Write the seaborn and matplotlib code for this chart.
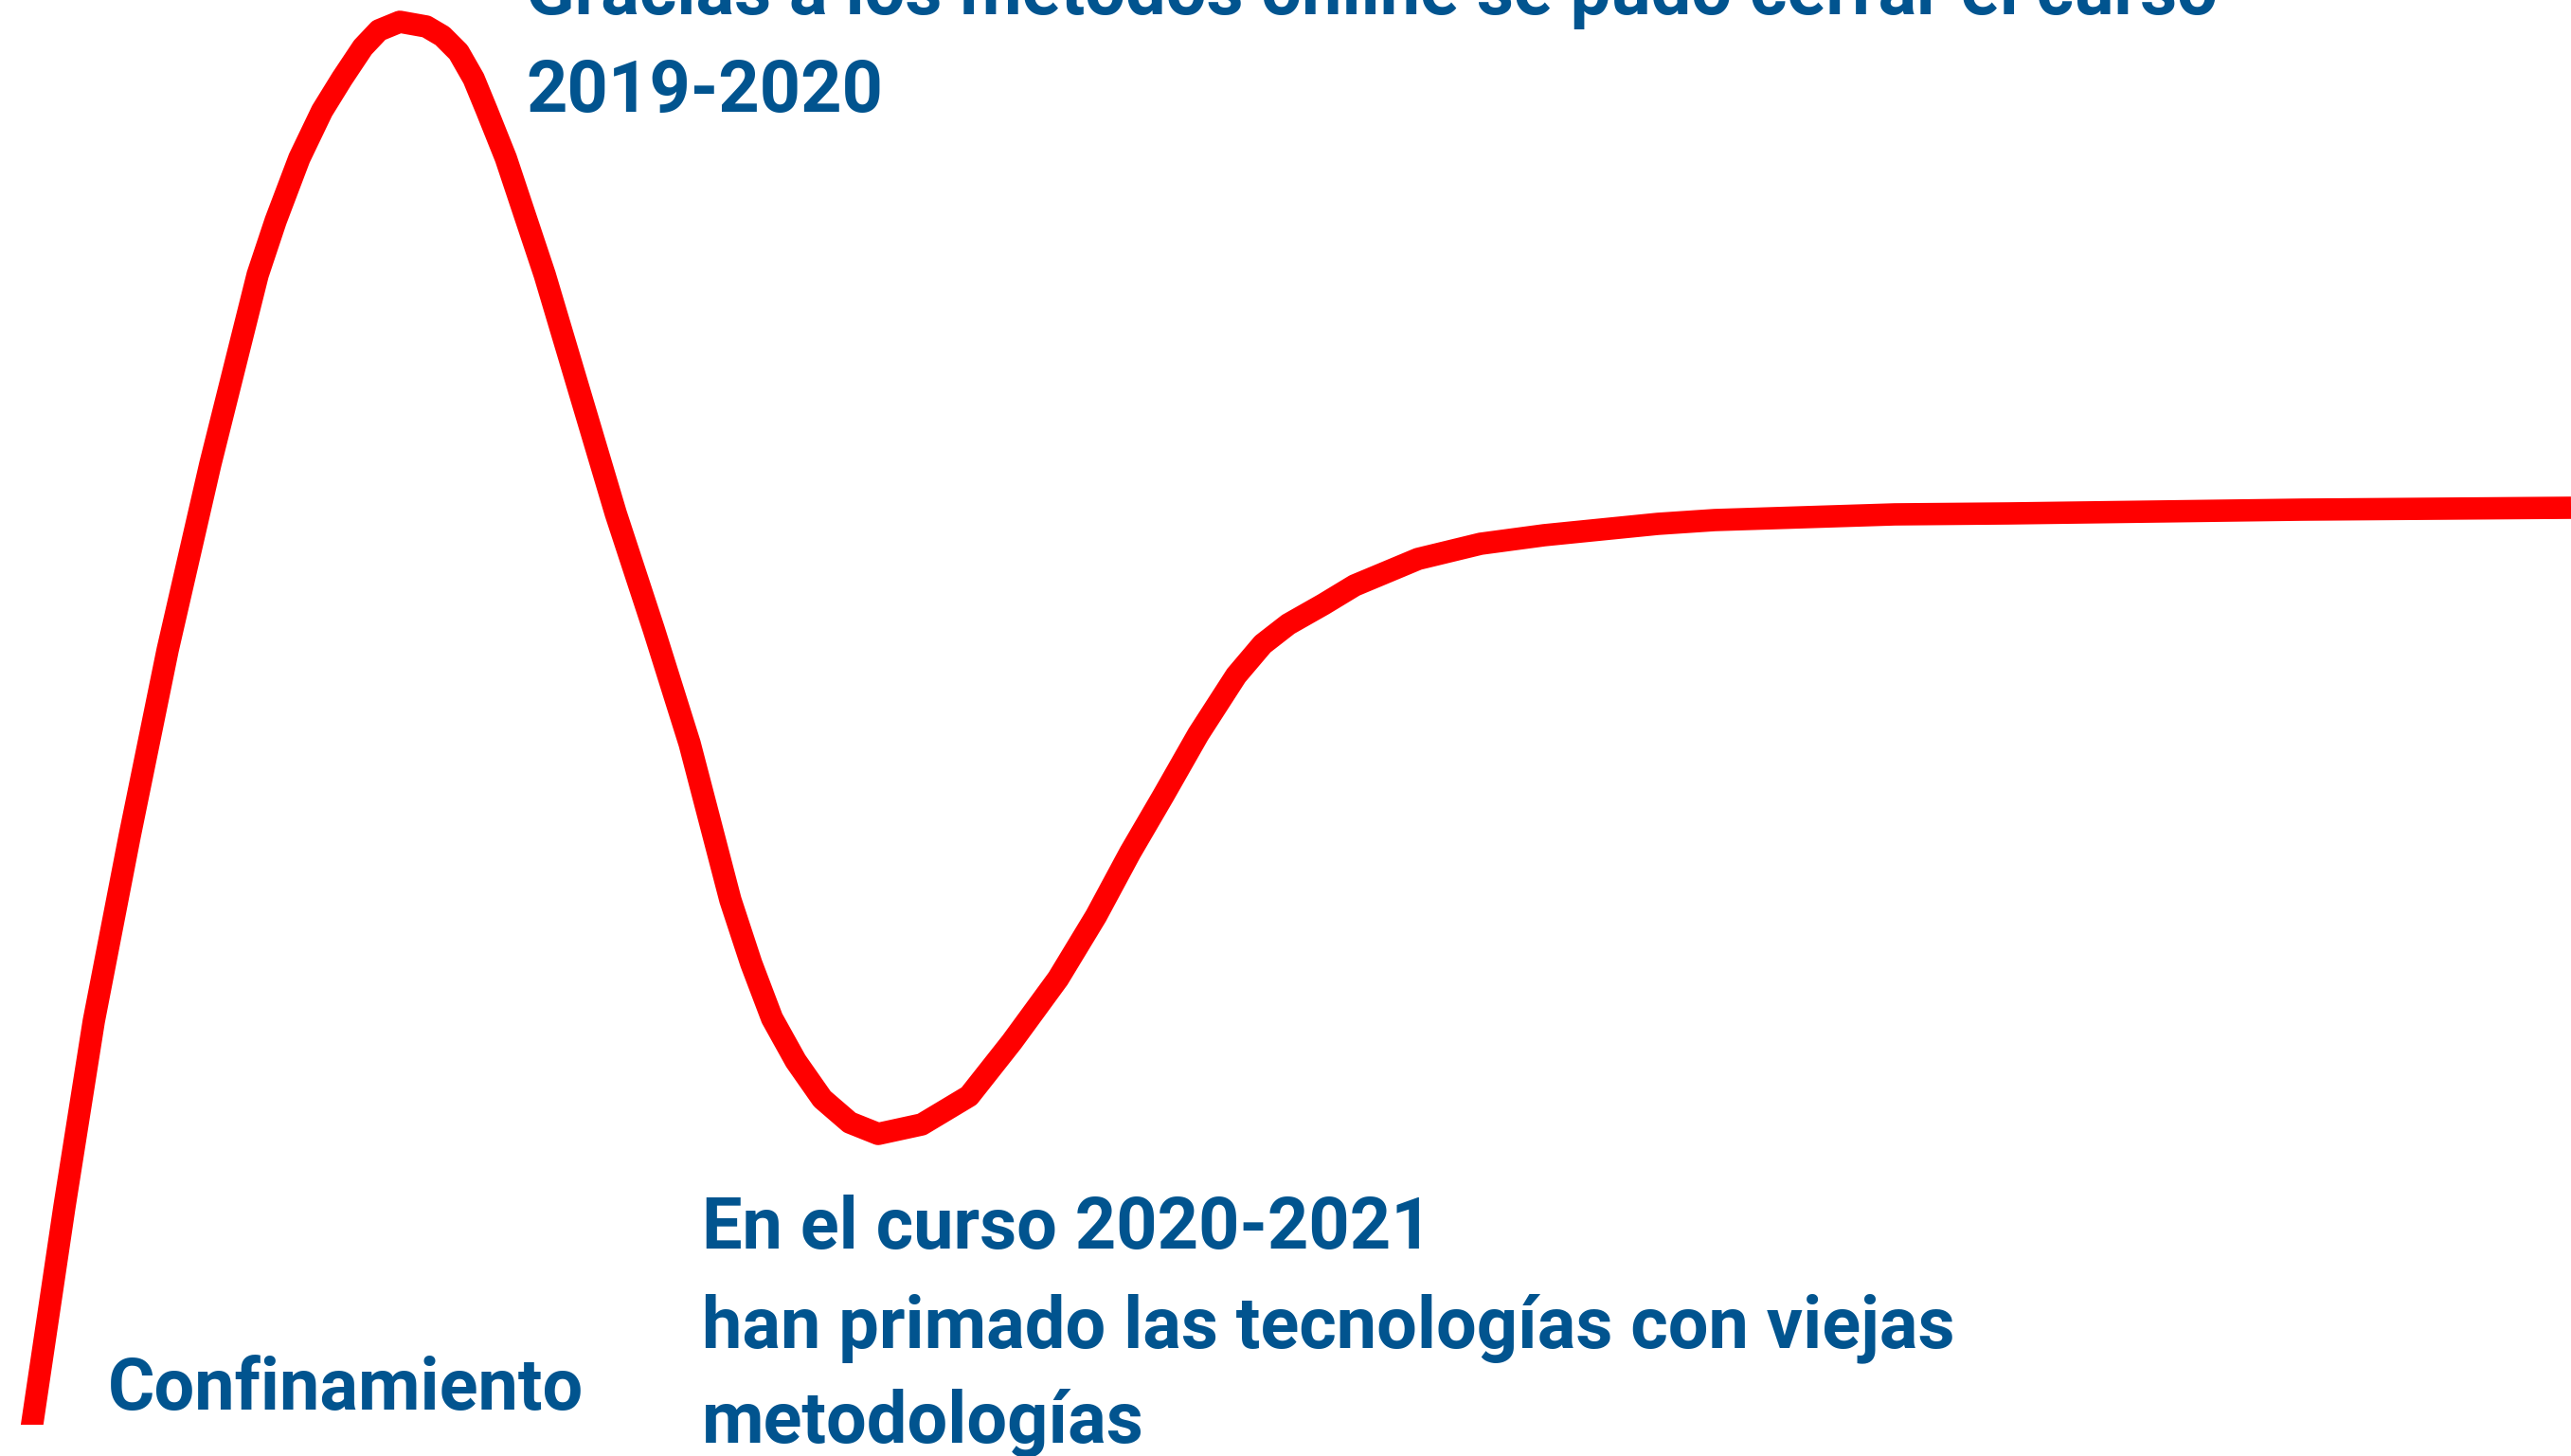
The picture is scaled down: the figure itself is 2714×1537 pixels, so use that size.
import matplotlib
matplotlib.use("Agg")
import matplotlib.pyplot as plt
import seaborn as sns

# curve (pixel units, y grows downwards)
curve_x = [29, 34, 68, 99, 137, 177, 222, 272, 291, 316, 340, 361, 383, 400, 422,
           450, 467, 484, 500, 514, 534, 556, 575, 614, 650, 690, 728, 771, 793,
           815, 840, 868, 897, 927, 973, 1023, 1068, 1117, 1157, 1193, 1228, 1265,
           1305, 1333, 1360, 1397, 1430, 1497, 1563, 1630, 1750, 1810, 2000, 2120,
           2430, 2714]
curve_y = [1540, 1503, 1274, 1078, 882, 686, 490, 290, 233, 167, 117, 83, 50, 32, 23,
           28, 38, 55, 83, 117, 167, 233, 290, 421, 542, 664, 785, 950, 1017,
           1075, 1120, 1160, 1185, 1197, 1187, 1157, 1100, 1033, 967, 900, 840, 775,
           713, 680, 659, 638, 618, 590, 574, 565, 553, 549, 543, 542,
           538, 536]

labels = [
    "Gracias a los métodos online se pudo cerrar el curso",
    "2019-2020",
    "Confinamiento",
    "En el curso 2020-2021",
    "han primado las tecnologías con viejas",
    "metodologías",
]
label_x = [555, 555, 114, 741, 741, 741]
label_y = [15, 118, 1488, 1318, 1422, 1523]

W, H = 2714, 1537
BOTTOM = 1504  # the curve is clipped here

sns.set_theme(style="white")
plt.rcParams["font.family"] = ["Roboto", "DejaVu Sans"]

fig = plt.figure(figsize=(W / 100, H / 100), dpi=100)
fig.patch.set_facecolor("white")
ax = fig.add_axes([0, (H - BOTTOM) / H, 1, BOTTOM / H])

sns.lineplot(x=curve_x, y=curve_y, sort=False, color="#FF0000", linewidth=17,
             ax=ax, solid_capstyle="butt", solid_joinstyle="round")

for txt, tx, ty in zip(labels, label_x, label_y):
    ax.text(tx, ty, txt, ha="left", va="baseline", fontsize=54.5, fontweight="bold",
            color="#01548F", clip_on=False)

ax.set_xlim(0, W)
ax.set_ylim(BOTTOM, 0)
ax.axis("off")

fig.savefig("out.png", dpi=100, facecolor="white")
